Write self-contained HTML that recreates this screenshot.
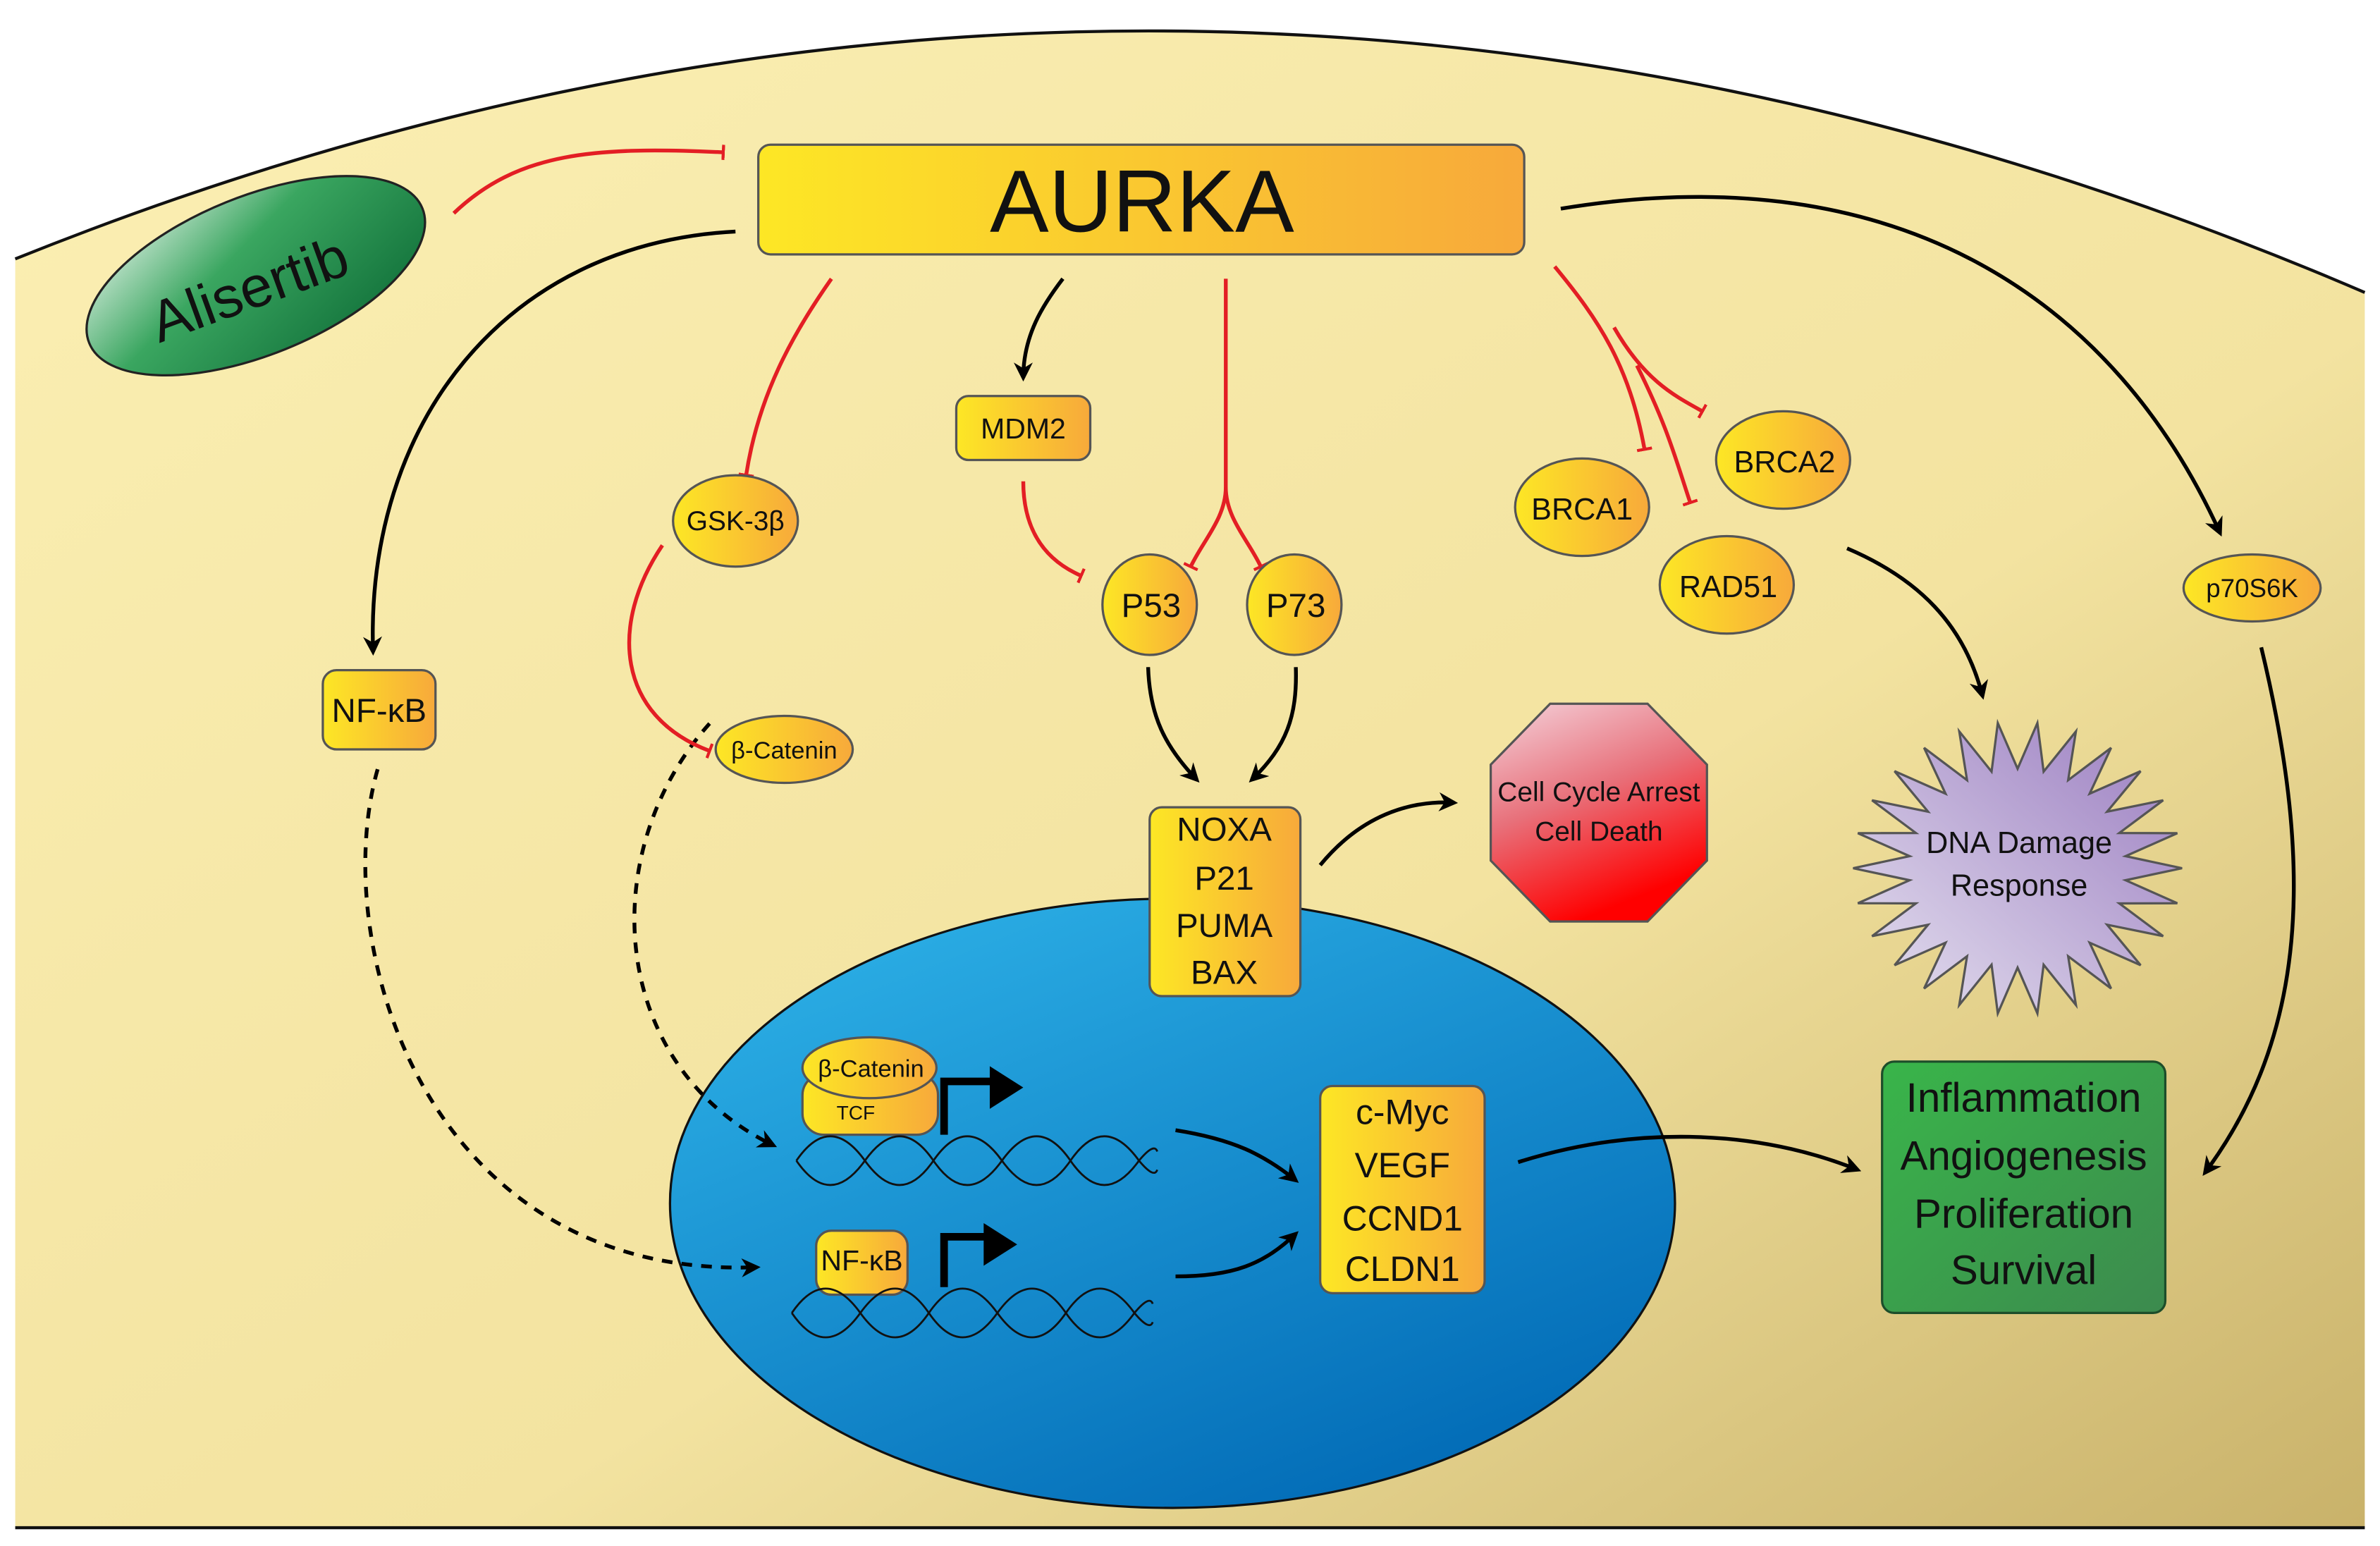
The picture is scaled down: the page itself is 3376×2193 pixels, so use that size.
<!DOCTYPE html>
<html><head><meta charset="utf-8"><style>
html,body{margin:0;padding:0;background:#fff;}
svg{display:block;}
text{font-family:"Liberation Sans","DejaVu Sans",sans-serif;fill:#111;}
</style></head><body>
<svg id="s" width="3376" height="2193" viewBox="0 0 1563 1015" preserveAspectRatio="none" xmlns="http://www.w3.org/2000/svg">
<defs>
<linearGradient id="cell" x1="0" y1="0" x2="1" y2="1"><stop offset="0" stop-color="#fbefb3"/><stop offset="0.6" stop-color="#f3e3a0"/><stop offset="1" stop-color="#c9b26a"/></linearGradient>
<linearGradient id="nuc" x1="0.2" y1="0.1" x2="0.8" y2="1"><stop offset="0" stop-color="#29aae2"/><stop offset="1" stop-color="#0068b4"/></linearGradient>
<linearGradient id="yel" x1="0" y1="0" x2="1" y2="0"><stop offset="0" stop-color="#fde725"/><stop offset="1" stop-color="#f7a93b"/></linearGradient>
<linearGradient id="grn" x1="0" y1="0" x2="1" y2="1"><stop offset="0" stop-color="#e8f5ec"/><stop offset="0.4" stop-color="#3aa660"/><stop offset="1" stop-color="#0d6b36"/></linearGradient>
<linearGradient id="box" x1="0" y1="0" x2="1" y2="1"><stop offset="0" stop-color="#39b54a"/><stop offset="1" stop-color="#3c8a4e"/></linearGradient>
<linearGradient id="oct" x1="0" y1="0" x2="0.4" y2="1"><stop offset="0" stop-color="#f4d3dc"/><stop offset="0.5" stop-color="#e8707a"/><stop offset="1" stop-color="#ff0000"/></linearGradient>
<linearGradient id="star" x1="0" y1="1" x2="1" y2="0"><stop offset="0" stop-color="#e6e2f0"/><stop offset="1" stop-color="#9a7cc0"/></linearGradient>
<marker id="ar" viewBox="0 0 10 10" refX="8" refY="5" markerWidth="5" markerHeight="5" orient="auto"><path d="M0,0 L10,5 L0,10 L3,5 z" fill="#000"/></marker>
<marker id="tb" viewBox="0 0 4 20" refX="2" refY="10" markerWidth="2" markerHeight="10" markerUnits="userSpaceOnUse" orient="auto"><rect x="0" y="0" width="4" height="20" fill="#e31e24"/></marker>
</defs>
<rect width="1563" height="1015" fill="#fff"/>
<path d="M10,170 Q780,-140 1553,192 L1553,1003 L10,1003 Z" fill="url(#cell)"/>
<path d="M10,170 Q780,-140 1553,192" fill="none" stroke="#111" stroke-width="2"/>
<line x1="10" y1="1003" x2="1553" y2="1003" stroke="#111" stroke-width="2"/>
<ellipse cx="770" cy="790" rx="330" ry="200" fill="url(#nuc)" stroke="#111" stroke-width="1.5"/>

<g fill="none" stroke="#000" stroke-width="2.5" marker-end="url(#ar)">
<path d="M483,152 C330,160 240,280 245,428"/>
<path d="M698,183 C685,200 672,220 672,248"/>
<path d="M1025,137 C1250,100 1390,200 1458,350"/>
<path d="M754,438 C755,470 765,490 786,512"/>
<path d="M851,438 C852,470 845,490 822,512"/>
<path d="M867,568 C890,540 920,525 955,527"/>
<path d="M1213,360 C1260,380 1290,410 1302,457"/>
<path d="M1485,425 C1520,570 1515,680 1448,770"/>
<path d="M772,742 C810,748 830,758 851,775"/>
<path d="M772,838 C810,838 830,830 851,810"/>
<path d="M997,763 C1070,740 1150,740 1220,768"/>
<path d="M248,505 C215,620 280,840 497,832" stroke-dasharray="7,6"/>
<path d="M466,475 C390,560 400,700 508,752" stroke-dasharray="7,6"/>
</g>
<g fill="none" stroke="#e31e24" stroke-width="2.5" marker-end="url(#tb)">
<path d="M298,140 C340,100 390,96 475,100"/>
<path d="M546,183 C520,220 498,260 490,312"/>
<path d="M672,316 C672,340 680,365 710,378"/>
<path d="M805,183 L805,320 C805,340 790,355 782,372"/>
<path d="M805,320 C805,340 820,355 828,372"/>
<path d="M1021,175 C1050,210 1070,240 1080,295"/>
<path d="M1060,215 C1080,250 1100,260 1118,270"/>
<path d="M1075,240 C1095,280 1100,300 1110,330"/>
<path d="M435,358 C400,410 405,470 466,493"/>
</g>

<g stroke="#555" stroke-width="1.5">
<rect x="498" y="95" width="503" height="72" rx="8" fill="url(#yel)"/>
<ellipse cx="168" cy="181" rx="118" ry="52" transform="rotate(-22 168 181)" fill="url(#grn)" stroke="#222"/>
<rect x="628" y="260" width="88" height="42" rx="8" fill="url(#yel)"/>
<ellipse cx="483" cy="342" rx="41" ry="30" fill="url(#yel)"/>
<rect x="212" y="440" width="74" height="52" rx="9" fill="url(#yel)"/>
<ellipse cx="515" cy="492" rx="45" ry="22" fill="url(#yel)"/>
<ellipse cx="755" cy="397" rx="31" ry="33" fill="url(#yel)"/>
<ellipse cx="850" cy="397" rx="31" ry="33" fill="url(#yel)"/>
<ellipse cx="1039" cy="333" rx="44" ry="32" fill="url(#yel)"/>
<ellipse cx="1171" cy="302" rx="44" ry="32" fill="url(#yel)"/>
<ellipse cx="1134" cy="384" rx="44" ry="32" fill="url(#yel)"/>
<ellipse cx="1479" cy="386" rx="45" ry="22" fill="url(#yel)"/>
<rect x="755" y="530" width="99" height="124" rx="8" fill="url(#yel)"/>
<polygon points="1018,462 1082,462 1121,502 1121,565 1082,605 1018,605 979,565 979,502" fill="url(#oct)"/>
<polygon id="sb" points="" fill="url(#star)"/>
<rect x="1236" y="697" width="186" height="165" rx="8" fill="url(#box)" stroke="#1d4d2a"/>
<rect x="867" y="713" width="108" height="136" rx="8" fill="url(#yel)"/>
<rect x="527" y="705" width="89" height="40" rx="14" fill="url(#yel)"/>
<ellipse cx="571" cy="701" rx="44" ry="20" fill="url(#yel)"/>
<rect x="536" y="808" width="60" height="42" rx="10" fill="url(#yel)"/>
</g>
<g fill="none" stroke="#111" stroke-width="1.3">
<path d="M523,762 q22,-32 45,0 t45,0 t45,0 t45,0 t45,0 q10,12 12,6"/>
<path d="M523,762 q22,32 45,0 t45,0 t45,0 t45,0 t45,0 q10,-12 12,-6"/>
<path d="M520,862 q22,-32 45,0 t45,0 t45,0 t45,0 t45,0 q10,12 12,6"/>
<path d="M520,862 q22,32 45,0 t45,0 t45,0 t45,0 t45,0 q10,-12 12,-6"/>
</g>
<path d="M620,745 L620,710 L652,710" fill="none" stroke="#000" stroke-width="5"/>
<polygon points="650,700 672,714 650,728" fill="#000"/>
<path d="M620,845 L620,812 L648,812" fill="none" stroke="#000" stroke-width="5"/>
<polygon points="646,803 668,817 646,831" fill="#000"/>

<g text-anchor="middle">
<text x="750" y="152" font-size="58">AURKA</text>
<text x="163" y="203" font-size="38" fill="#000" transform="rotate(-20 163 188)">Alisertib</text>
<text x="672" y="288" font-size="19">MDM2</text>
<text x="483" y="348" font-size="18">GSK-3β</text>
<text x="249" y="474" font-size="22">NF-κB</text>
<text x="515" y="498" font-size="16">β-Catenin</text>
<text x="756" y="405" font-size="22">P53</text>
<text x="851" y="405" font-size="22">P73</text>
<text x="1039" y="341" font-size="20">BRCA1</text>
<text x="1172" y="310" font-size="20">BRCA2</text>
<text x="1135" y="392" font-size="20">RAD51</text>
<text x="1479" y="392" font-size="17">p70S6K</text>
<text x="804" y="552" font-size="22">NOXA</text>
<text x="804" y="584" font-size="22">P21</text>
<text x="804" y="615" font-size="22">PUMA</text>
<text x="804" y="646" font-size="22">BAX</text>
<text x="1050" y="526" font-size="18">Cell Cycle Arrest</text>
<text x="1050" y="552" font-size="18">Cell Death</text>
<text x="1326" y="560" font-size="20">DNA Damage</text>
<text x="1326" y="588" font-size="20">Response</text>
<text x="1329" y="730" font-size="27">Inflammation</text>
<text x="1329" y="768" font-size="27">Angiogenesis</text>
<text x="1329" y="806" font-size="27">Proliferation</text>
<text x="1329" y="843" font-size="27">Survival</text>
<text x="921" y="738" font-size="23">c-Myc</text>
<text x="921" y="773" font-size="23">VEGF</text>
<text x="921" y="808" font-size="23">CCND1</text>
<text x="921" y="841" font-size="23">CLDN1</text>
<text x="572" y="707" font-size="16">β-Catenin</text>
<text x="562" y="735" font-size="13">TCF</text>
<text x="566" y="834" font-size="19">NF-κB</text>
</g>
</svg>
<script>
var p=[],cx=1325,cy=570,n=26;
for(var i=0;i<2*n;i++){var a=i*Math.PI/n,r=i%2?0.68:1;var rx=(i%2?105:108)*r,ry=96*r;p.push((cx+rx*Math.cos(a)).toFixed(1)+","+(cy+ry*Math.sin(a)).toFixed(1));}
document.getElementById("sb").setAttribute("points",p.join(" "));
</script>
</body></html>
